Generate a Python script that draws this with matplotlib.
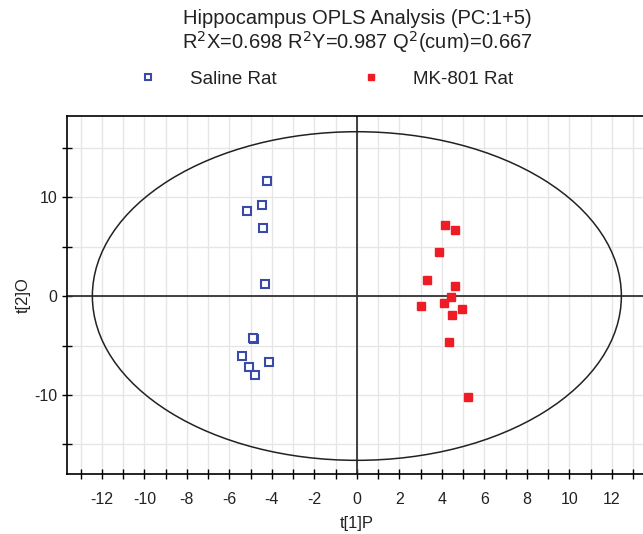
#!/usr/bin/env python3
import numpy as np
import matplotlib
matplotlib.use('Agg')
from matplotlib import pyplot as plt
from matplotlib.patches import Ellipse
from matplotlib.ticker import MultipleLocator

plt.rcParams['font.family'] = ['Liberation Sans', 'DejaVu Sans']
plt.rcParams['axes.unicode_minus'] = False

# scores
saline_x = [-4.25, -4.47, -5.19, -4.41, -4.32, -4.83, -4.87, -5.41, -4.13, -5.07, -4.79]
saline_y = [11.65, 9.19, 8.59, 6.84, 1.18, -4.31, -4.24, -6.09, -6.67, -7.14, -7.98]
mk_x = [4.16, 4.63, 3.87, 3.28, 4.63, 4.41, 3.00, 4.08, 4.96, 4.49, 4.33, 5.22]
mk_y = [7.16, 6.72, 4.43, 1.65, 1.04, -0.13, -1.01, -0.71, -1.28, -1.89, -4.65, -10.2]

# Hotelling T2 ellipse half axes
ell_a = 12.45
ell_b = 16.6

title1 = 'Hippocampus OPLS Analysis (PC:1+5)'
title2 = 'R$^2$X=0.698 R$^2$Y=0.987 Q$^2$(cum)=0.667'

fig = plt.figure(figsize=(6.43, 5.34), dpi=100)
ax = fig.add_axes([0.104, 0.112, 0.902, 0.671])
ax.set_xlim(-13.65, 13.65)
ax.set_ylim(-18.0, 18.2)

ax.xaxis.set_major_locator(MultipleLocator(2))
ax.xaxis.set_minor_locator(MultipleLocator(1))
ax.yaxis.set_major_locator(MultipleLocator(10))
ax.yaxis.set_minor_locator(MultipleLocator(5))
ax.grid(which='both', color='#e6e6e6', lw=1, zorder=0)
ax.set_axisbelow(True)
ax.tick_params(which='both', direction='inout', length=7, width=1, colors='black',
               labelsize=11.5, labelcolor='#222222')
ax.tick_params(axis='x', pad=9)
for s in ['left', 'bottom', 'top']:
    ax.spines[s].set_linewidth(1.2)
ax.spines['right'].set_visible(False)

ax.axhline(0, color='#333333', lw=1.3, zorder=2)
ax.axvline(0, color='#333333', lw=1.3, zorder=2)
ax.add_patch(Ellipse((0, 0), 2 * ell_a, 2 * ell_b, fill=False, ec='#222222', lw=1.1, zorder=2))

ax.plot(saline_x, saline_y, 's', ms=5.5, mfc='white', mec='#3a4aa8', mew=1.5,
        ls='none', label='Saline Rat', zorder=3)
ax.plot(mk_x, mk_y, 's', ms=6, mfc='#ee1c25', mec='#ee1c25', ls='none',
        label='MK-801 Rat', zorder=3)

ax.set_xlabel('t[1]P', fontsize=12, color='#222222', labelpad=7)
ax.set_ylabel('t[2]O', fontsize=12, color='#222222', labelpad=2)

fig.text(0.556, 0.966, title1, ha='center', va='center', fontsize=14.5, color='#222222')
fig.text(0.556, 0.921, title2, ha='center', va='center', fontsize=14.5, color='#222222')

handles, labels = ax.get_legend_handles_labels()
leg = fig.legend(handles, labels, loc='center', bbox_to_anchor=(0.507, 0.852), ncol=2,
                 frameon=False, fontsize=13.5, handletextpad=1.74, columnspacing=4.5,
                 markerscale=0.75, handlelength=1.0, borderpad=0, borderaxespad=0)
for t in leg.get_texts():
    t.set_color('#222222')

fig.savefig('out.png', dpi=100)
